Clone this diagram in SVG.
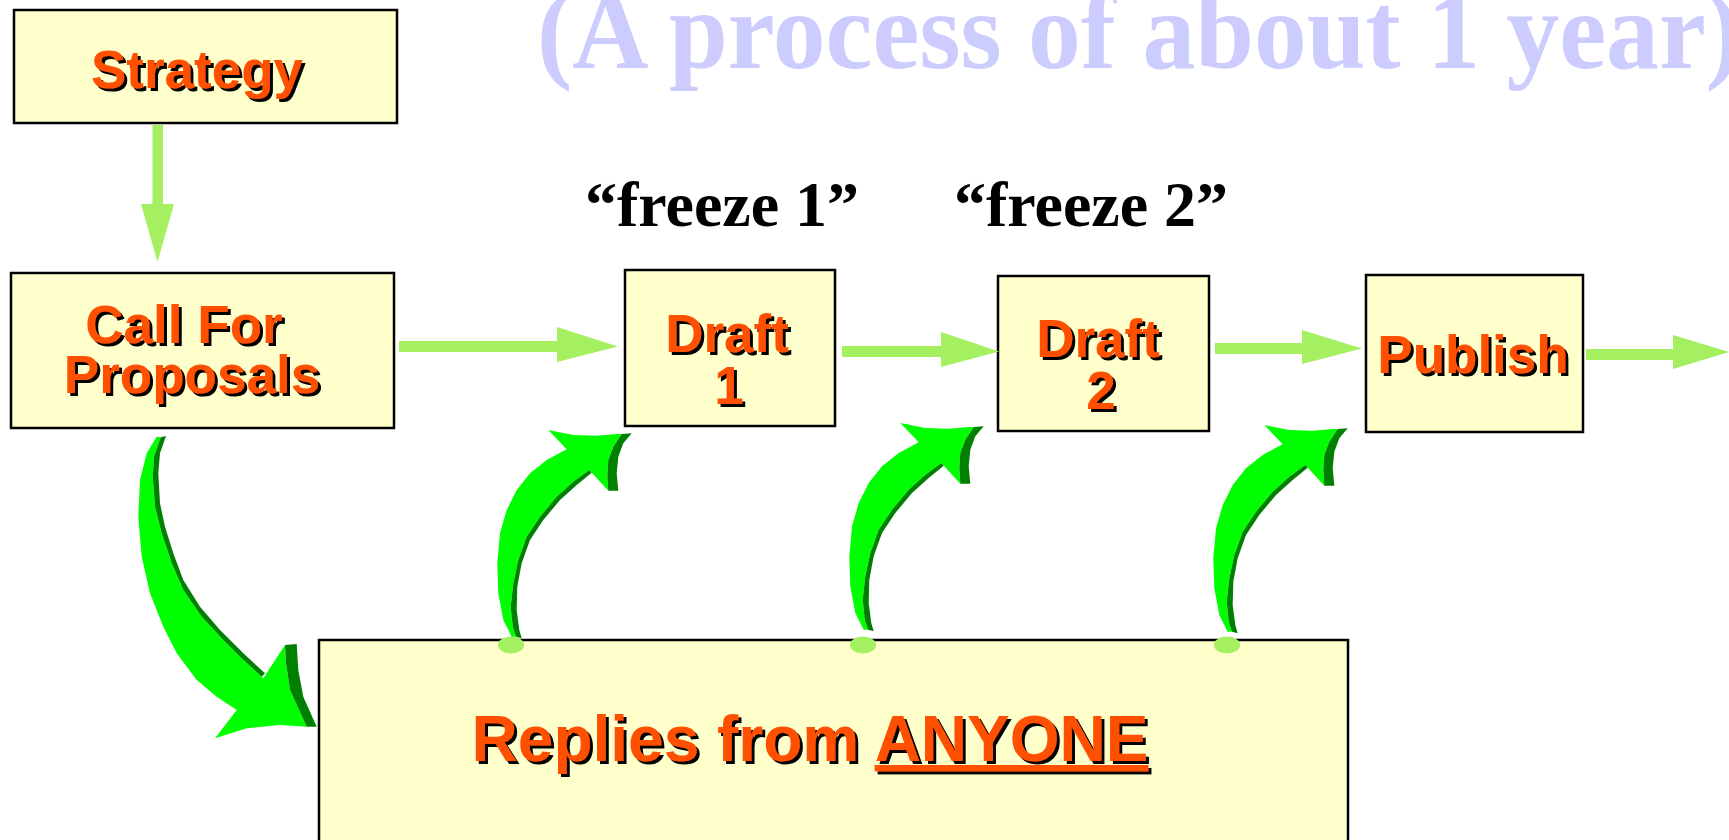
<svg xmlns="http://www.w3.org/2000/svg" width="1729" height="840" viewBox="0 0 1729 840">
<defs>
<style>
.box{fill:#FFFFCC;stroke:#000;stroke-width:2.5}
.lbl{font-family:"Liberation Sans",Arial,sans-serif;font-weight:bold;fill:#FF5000;text-anchor:middle;filter:url(#sh)}
.frz{font-family:"Liberation Serif","Times New Roman",serif;font-weight:bold;font-size:64px;fill:#000;text-anchor:middle}
.arr{fill:#A4F060}
.bright{fill:#00FF00}
.dark{fill:#008000}
.dot{fill:#A4F060}
</style>
<filter id="sh" x="-5%" y="-10%" width="115%" height="130%">
<feDropShadow dx="3" dy="3" stdDeviation="0" flood-color="#000" flood-opacity="1"/>
</filter>
<g id="curveArrow">
<polygon class="bright" points="511.7,636.7 503.3,620 498.3,593.3 497.3,563.3 500,533.3 506.7,510 516.7,490 530,473.3 546.7,460 566.7,449.3 548.3,430 573.3,435 596.7,435.7 616.7,434 621.7,434 613.3,446.7 608.3,460 607.3,475 608.3,490.7 589.3,470 573.3,481.7 556.7,496.7 540,516.7 526.7,536.7 518.3,560 513.3,583.3 510.7,606.7 512.7,626.7 516,636.7"/>
<polygon class="dark" points="589.3,470 591.7,472.7 576.7,485 560,500 543.3,520 530,540 521.7,563.3 517.3,586.7 516.7,610 519.3,630 521.7,638.3 516,636.7 512.7,626.7 510.7,606.7 513.3,583.3 518.3,560 526.7,536.7 540,516.7 556.7,496.7 573.3,481.7"/>
<polygon class="dark" points="621.7,434 631.7,433.3 623.3,443.3 618.3,456.7 616.7,473.3 618.3,490.7 608.3,490.7 607.3,475 608.3,460 613.3,446.7"/>
</g>
</defs>
<rect width="1729" height="840" fill="#FFFFFF"/>

<g id="title">
<text x="537" y="68" font-family="'Liberation Serif','Times New Roman',serif" font-weight="bold" font-size="110" fill="#CCCCFF" textLength="1204" lengthAdjust="spacingAndGlyphs">(A process of about 1 year)</text>
</g>

<g id="freeze-labels">
<text class="frz" x="722" y="226">“freeze 1”</text>
<text class="frz" x="1091" y="226">“freeze 2”</text>
</g>

<g id="node-strategy">
<rect class="box" x="14" y="10" width="383" height="113"/>
<text class="lbl" x="197" y="88" font-size="53">Strategy</text>
</g>

<g id="node-call">
<rect class="box" x="11" y="273" width="383" height="155"/>
<text class="lbl" font-size="53"><tspan x="184" y="343">Call For</tspan><tspan x="192" y="393">Proposals</tspan></text>
</g>

<g id="node-draft1">
<rect class="box" x="625" y="270" width="210" height="156"/>
<text class="lbl" font-size="53"><tspan x="727" y="352">Draft</tspan><tspan x="729" y="404">1</tspan></text>
</g>

<g id="node-draft2">
<rect class="box" x="998" y="276" width="211" height="155"/>
<text class="lbl" font-size="53"><tspan x="1098" y="357">Draft</tspan><tspan x="1101" y="409">2</tspan></text>
</g>

<g id="node-publish">
<rect class="box" x="1366" y="275" width="217" height="157"/>
<text class="lbl" x="1473" y="373" font-size="53">Publish</text>
</g>

<g id="node-replies">
<rect class="box" x="319" y="640" width="1029" height="220"/>
<text class="lbl" x="810" y="761" font-size="64">Replies from <tspan text-decoration="underline">ANYONE</tspan></text>
<ellipse class="dot" cx="511" cy="645" rx="13" ry="8.5"/>
<ellipse class="dot" cx="863" cy="645" rx="13" ry="8.5"/>
<ellipse class="dot" cx="1227" cy="645" rx="13" ry="8.5"/>
</g>

<g id="connectors">
<rect class="arr" x="152.5" y="125" width="10.5" height="80"/>
<polygon class="arr" points="141,204 174,204 157.5,262"/>

<rect class="arr" x="399" y="341" width="159" height="11"/>
<polygon class="arr" points="557,327 557,362 618,346.5"/>

<rect class="arr" x="842" y="346" width="100" height="11"/>
<polygon class="arr" points="941,332 941,367 999,351.5"/>

<rect class="arr" x="1215" y="343" width="88" height="11"/>
<polygon class="arr" points="1302,330 1302,364 1362,348.5"/>

<rect class="arr" x="1586" y="349" width="88" height="11"/>
<polygon class="arr" points="1673,335 1673,369 1729,352"/>

<g id="curve-call-replies">
<polygon class="bright" points="156.7,436.7 146.7,453.3 140,480 138.3,516.7 141.7,556.7 150,593.3 163.3,626.7 176.7,653.3 196.7,680 216.7,696.7 236.7,710 215,738.3 246.7,728.3 280,725 306.7,726.7 290,690 286,663.3 285,645 263.3,678.3 261.7,676.7 243.3,660 223.3,640 201.7,616.7 183.3,590 171.7,563.3 161.7,533.3 155,506.7 152.7,476.7 154,456.7 160.7,437.3"/>
<polygon class="dark" points="160.7,437.3 166,436 160,453.3 158.3,473.3 160,503.3 165,526.7 173.3,553.3 183.3,580 200,606.7 220,630 243.3,653.3 265,673.3 261.7,676.7 243.3,660 223.3,640 201.7,616.7 183.3,590 171.7,563.3 161.7,533.3 155,506.7 152.7,476.7 154,456.7"/>
<polygon class="dark" points="285,645 296.7,644 298.3,670 303.3,696.7 316.7,726.7 306.7,726.7 290,690 286,663.3"/>
</g>
<use id="curve-replies-draft1" href="#curveArrow"/>
<use id="curve-replies-draft2" href="#curveArrow" transform="translate(352,-7)"/>
<use id="curve-replies-publish" href="#curveArrow" transform="translate(716,-5)"/>
</g>
</svg>
